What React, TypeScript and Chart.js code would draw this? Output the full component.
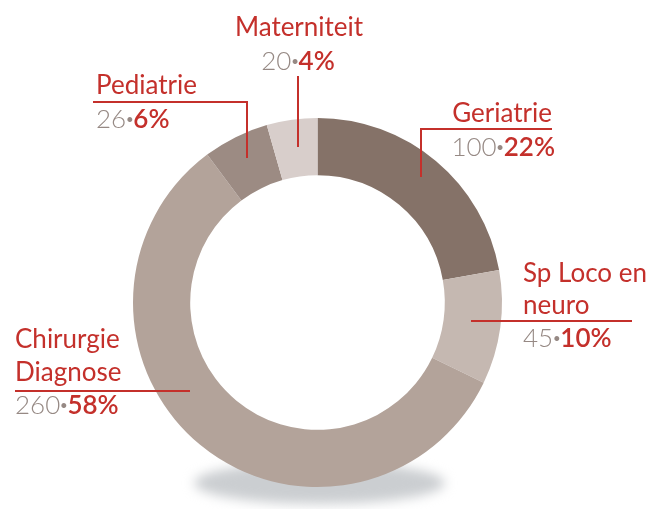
import { useEffect, useRef } from "react";
import { Chart, registerables } from "chart.js";

Chart.register(...registerables);

const categories = ["Geriatrie", "Sp Loco en neuro", "Chirurgie Diagnose", "Pediatrie", "Materniteit"];
const values = [100, 45, 260, 26, 20];
const percentLabels = ["22%", "10%", "58%", "6%", "4%"];
const nameLines = [["Geriatrie"], ["Sp Loco en", "neuro"], ["Chirurgie", "Diagnose"], ["Pediatrie"], ["Materniteit"]];
const colors = ["#857268", "#c5b8b1", "#b3a39a", "#9c8b83", "#d8cecb"];

const RED = "#c4302b";
const GREY = "#968984";
const FONT = "Lato, 'Open Sans', sans-serif";

type Layout = {
  align: CanvasTextAlign;
  x: number;
  nameBaselines: number[];
  numX: number;
  numBaseline: number;
  leader: number[][];
};

const layouts: Layout[] = [
  { align: "right", x: 552, nameBaselines: [122], numX: 555, numBaseline: 156, leader: [[552, 129], [421, 129], [421, 177]] },
  { align: "left", x: 523, nameBaselines: [282, 314], numX: 523, numBaseline: 347, leader: [[632, 321], [471, 321]] },
  { align: "left", x: 15, nameBaselines: [348, 381], numX: 15, numBaseline: 414, leader: [[15, 391], [190, 391]] },
  { align: "left", x: 96, nameBaselines: [94], numX: 96, numBaseline: 128, leader: [[93, 102], [247, 102], [247, 158]] },
  { align: "center", x: 299, nameBaselines: [36], numX: 298, numBaseline: 70, leader: [[298, 76], [298, 147]] },
];

const shadowPlugin = {
  id: "shadowPlugin",
  beforeDatasetsDraw(chart: any) {
    const ctx = chart.ctx as CanvasRenderingContext2D;
    const meta = chart.getDatasetMeta(0);
    const arc = meta.data[0];
    if (!arc) return;
    const cx = arc.x;
    const cy = arc.y;
    const r = arc.outerRadius;
    ctx.save();
    ctx.filter = "blur(6px)";
    ctx.fillStyle = "#cbced1";
    ctx.beginPath();
    ctx.ellipse(cx + 2, cy + r - 4, r * 0.68, 21, 0, 0, Math.PI * 2);
    ctx.fill();
    ctx.restore();
  },
};

const labelPlugin = {
  id: "labelPlugin",
  afterDraw(chart: any) {
    const ctx = chart.ctx as CanvasRenderingContext2D;
    ctx.save();
    layouts.forEach((lay, i) => {
      ctx.strokeStyle = RED;
      ctx.lineWidth = 2;
      ctx.beginPath();
      lay.leader.forEach((p, j) => (j === 0 ? ctx.moveTo(p[0], p[1]) : ctx.lineTo(p[0], p[1])));
      ctx.stroke();

      ctx.fillStyle = RED;
      ctx.font = `400 26px ${FONT}`;
      ctx.textBaseline = "alphabetic";
      ctx.textAlign = lay.align;
      nameLines[i].forEach((t, k) => ctx.fillText(t, lay.x, lay.nameBaselines[k]));

      const parts = [
        { t: String(values[i]), font: `300 26px ${FONT}`, color: GREY },
        { t: "·", font: `700 26px ${FONT}`, color: GREY },
        { t: percentLabels[i], font: `600 26px ${FONT}`, color: RED },
      ];
      let total = 0;
      const widths = parts.map((p) => {
        ctx.font = p.font;
        const w = ctx.measureText(p.t).width;
        total += w;
        return w;
      });
      let x = lay.numX;
      if (lay.align === "center") x -= total / 2;
      else if (lay.align === "right") x -= total;
      ctx.textAlign = "left";
      parts.forEach((p, k) => {
        ctx.font = p.font;
        ctx.fillStyle = p.color;
        ctx.fillText(p.t, x, lay.numBaseline);
        x += widths[k];
      });
    });
    ctx.restore();
  },
};

export default function App() {
  const ref = useRef<HTMLCanvasElement | null>(null);
  useEffect(() => {
    if (!ref.current) return;
    const chart = new Chart(ref.current, {
      type: "doughnut",
      data: {
        labels: categories,
        datasets: [
          {
            data: values,
            backgroundColor: colors,
            borderWidth: 0,
          },
        ],
      },
      options: {
        responsive: false,
        animation: false,
        cutout: "69%",
        rotation: 0,
        layout: { padding: { left: 133, right: 155, top: 118, bottom: 22 } },
        plugins: {
          legend: { display: false },
          tooltip: { enabled: false },
          title: { display: false },
        },
      },
      plugins: [shadowPlugin, labelPlugin],
    });
    return () => chart.destroy();
  }, []);
  return (
    <div style={{ position: "fixed", left: 0, top: 0, width: 657, height: 509, background: "#fff" }}>
      <canvas ref={ref} width={657} height={509} style={{ width: 657, height: 509, display: "block" }} />
    </div>
  );
}
